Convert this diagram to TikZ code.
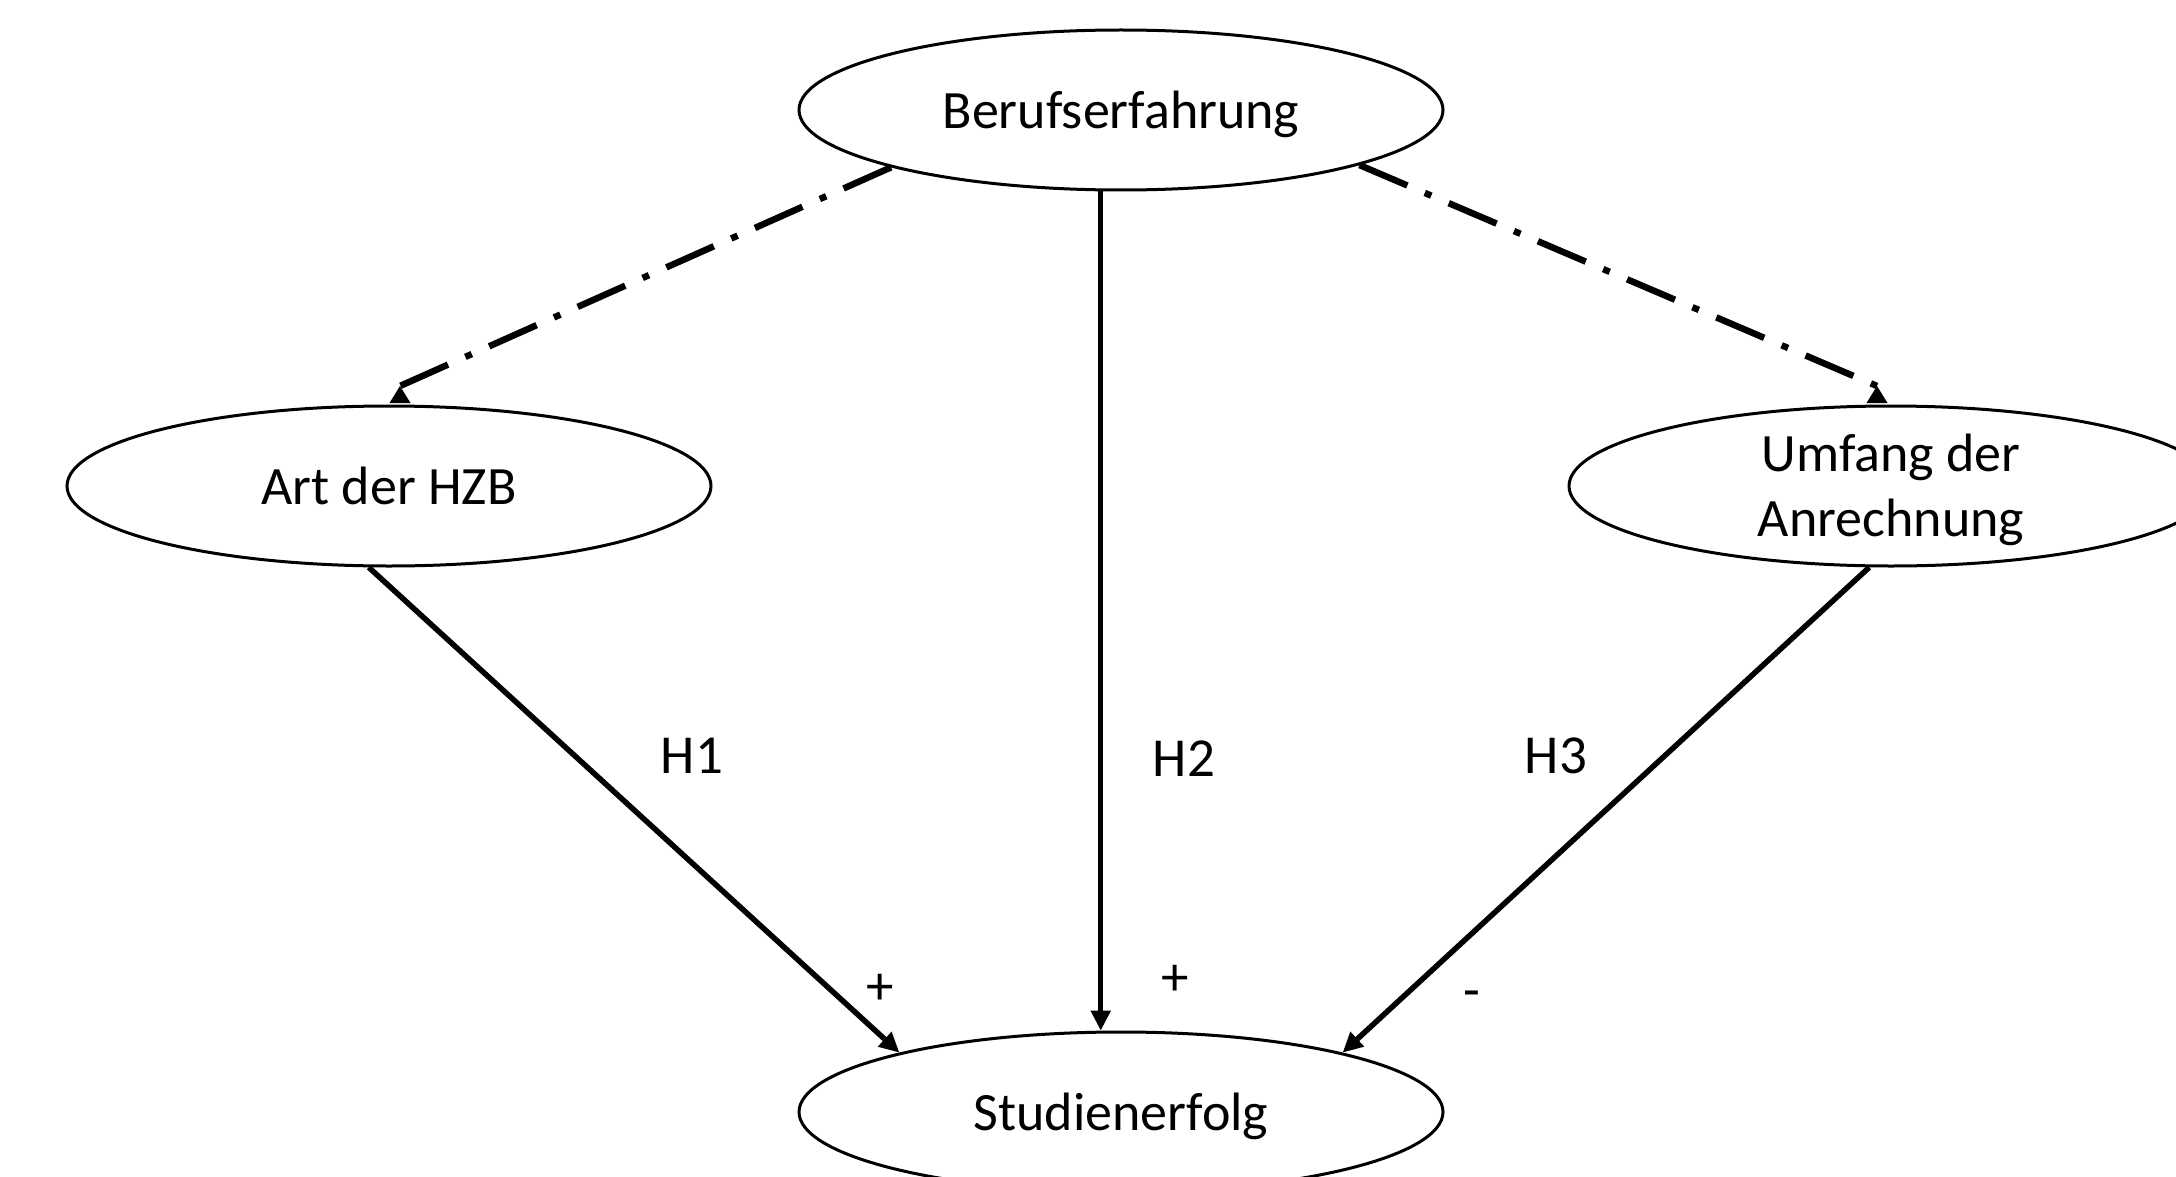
\documentclass[tikz,border=0pt]{standalone}
\usepackage{fontspec}
\setmainfont{Carlito}
\usetikzlibrary{shapes.geometric,arrows.meta}
\begin{document}
\begin{tikzpicture}[x=1pt,y=-1pt,
  var/.style={ellipse,draw,line width=3pt,minimum width=644pt,minimum height=160pt,inner sep=0pt},
  vtext/.style={font=\fontsize{54}{65}\selectfont,align=center,inner sep=0pt},
  effect/.style={line width=5.5pt,-{Triangle[length=20pt,width=19pt]}},
  moder/.style={line width=6.5pt,dash pattern=on 52pt off 19pt on 7pt off 19pt},
  tipmark/.style={fill=black},
  lab/.style={font=\fontsize{55}{66}\selectfont,anchor=base,inner sep=0pt}]
\useasboundingbox (0,0) rectangle (2176,1177);
\clip (0,0) rectangle (2176,1177);
\node[var] (be) at (1121,110) {};
\node[var] (hzb) at (389,486) {};
\node[var] (uma) at (1891,486) {};
\node[var] (st) at (1121,1112) {};
\node[vtext] (bet) at (1121,114) {Berufserfahrung};
\node[vtext] (hzbt) at (389,486) {Art der HZB};
\node[vtext] (umat) at (1891,490) {Umfang der\\Anrechnung};
\node[vtext] (stt) at (1121,1116) {Studienerfolg};
% tips of the dash-dot connectors
\coordinate (tL) at (400,386);
\coordinate (tR) at (1877,386);
\fill[tipmark] (tL) -- ++(-10.5,17) -- ++(21,0) -- cycle;
\fill[tipmark] (tR) -- ++(-10.5,17) -- ++(21,0) -- cycle;
\draw[moder] (be.-166.5) -- (tL);
\draw[moder] (be.-13.6) -- (tR);
\draw[effect] (be.-104) -- (st.104);
\draw[effect] (hzb.-104) -- (st.165);
\draw[effect] (uma.-105.6) -- (st.15);
\node[lab] (h1) at (692,773) {H1};
\node[lab] (h2) at (1184,776) {H2};
\node[lab] (h3) at (1556,773) {H3};
\node[lab] (p1) at (880,1004) {+};
\node[lab] (p2) at (1175,995) {+};
\node[lab] (m3) at (1472,1008) {-};
\end{tikzpicture}
\end{document}
